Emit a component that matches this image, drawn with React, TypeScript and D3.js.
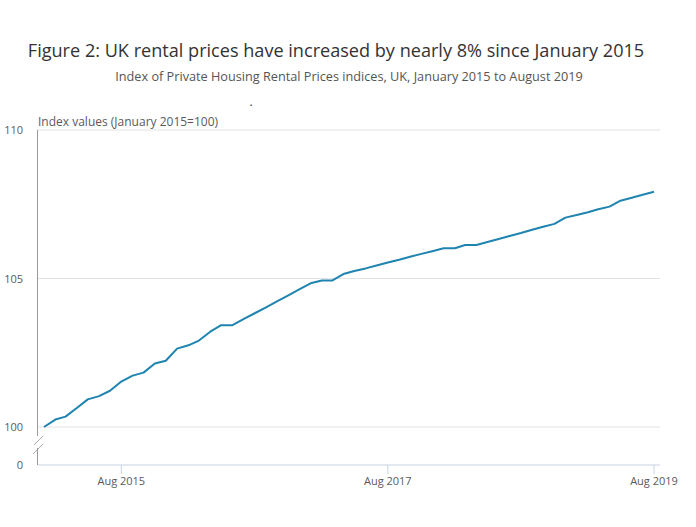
import React, { useEffect } from "react";
import * as d3 from "d3";

const startMonth = "2015-01";
const indexValues: number[] = [
  100.0, 100.25, 100.35, 100.64, 100.93, 101.04, 101.22, 101.53, 101.73, 101.83, 102.14, 102.23,
  102.64, 102.75, 102.91, 103.21, 103.43, 103.43, 103.63, 103.83, 104.03, 104.23, 104.43, 104.63,
  104.84, 104.93, 104.93, 105.15, 105.25, 105.34, 105.44, 105.54, 105.63, 105.73, 105.83, 105.92,
  106.02, 106.02, 106.13, 106.13, 106.23, 106.33, 106.43, 106.53, 106.64, 106.74, 106.84, 107.05,
  107.14, 107.23, 107.33, 107.42, 107.62, 107.72, 107.82, 107.92,
];
const yTicks: number[] = [100, 105, 110];
const xTickLabels: string[] = ["Aug 2015", "Aug 2017", "Aug 2019"];

const title = "Figure 2: UK rental prices have increased by nearly 8% since January 2015";
const subtitle = "Index of Private Housing Rental Prices indices, UK, January 2015 to August 2019";
const yAxisTitle = "Index values (January 2015=100)";

const FONT = "'Open Sans', 'Noto Sans', sans-serif";

export default function App() {
  useEffect(() => {
    document.body.style.margin = "0";
  }, []);

  const parse = d3.timeParse("%Y-%m");
  const start = parse(startMonth)!;
  const dates = indexValues.map((_, i) => d3.timeMonth.offset(start, i));
  const data = dates.map((d, i) => ({ date: d, value: indexValues[i] }));
  const tickDates = xTickLabels.map((l) => d3.timeParse("%b %Y")(l)!);

  const x = d3.scaleTime().domain([dates[0], dates[dates.length - 1]]).range([44, 654]);
  const y = d3.scaleLinear().domain([100, 110]).range([427, 130]);
  const yZero = 465;
  const left = 38;
  const right = 660;

  const line = d3
    .line<{ date: Date; value: number }>()
    .x((d) => x(d.date))
    .y((d) => y(d.value));

  const axisGrey = "#999";
  const gridColor = "#e3e3e3";
  const xAxisColor = "#c9d3e3";
  const textColor = "#5a5a5a";

  return (
    <svg width={696} height={527} style={{ position: "absolute", left: 0, top: 0, background: "#fff" }}>
      <text x={336} y={57} textAnchor="middle" fontFamily={FONT} fontSize={18.1} fill="#333">
        {title}
      </text>
      <text x={349} y={81} textAnchor="middle" fontFamily={FONT} fontSize={12.7} fill="#555">
        {subtitle}
      </text>
      <text x={251} y={106} textAnchor="middle" fontFamily={FONT} fontSize={12} fill="#333">
        .
      </text>

      {yTicks.map((t) => (
        <g key={t}>
          <line x1={left} x2={right} y1={y(t)} y2={y(t)} stroke={gridColor} strokeWidth={1} />
          <text x={23} y={y(t) + 4} textAnchor="end" fontFamily={FONT} fontSize={11} fill={textColor}>
            {t}
          </text>
        </g>
      ))}
      <text x={23} y={yZero + 4} textAnchor="end" fontFamily={FONT} fontSize={11} fill={textColor}>
        0
      </text>

      <text x={38} y={126} fontFamily={FONT} fontSize={12} fill={textColor}>
        {yAxisTitle}
      </text>

      {/* x axis */}
      <line x1={left} x2={right} y1={yZero} y2={yZero} stroke={xAxisColor} strokeWidth={1} />
      {tickDates.map((d, i) => (
        <g key={i}>
          <line x1={x(d)} x2={x(d)} y1={yZero} y2={yZero + 9} stroke={xAxisColor} strokeWidth={1} />
          <text x={x(d)} y={yZero + 20} textAnchor="middle" fontFamily={FONT} fontSize={11} fill={textColor}>
            {xTickLabels[i]}
          </text>
        </g>
      ))}

      {/* y axis with break */}
      <line x1={left - 0.5} x2={left - 0.5} y1={y(110)} y2={436} stroke={axisGrey} strokeWidth={1} />
      <line x1={left - 0.5} x2={left - 0.5} y1={448} y2={yZero} stroke={axisGrey} strokeWidth={1} />
      <line x1={34} x2={43} y1={445} y2={436} stroke={axisGrey} strokeWidth={0.8} />
      <line x1={33} x2={43} y1={454} y2={444} stroke={axisGrey} strokeWidth={0.8} />

      <path d={line(data) ?? ""} fill="none" stroke="#1f84b0" strokeWidth={2} strokeLinejoin="round" />
    </svg>
  );
}
